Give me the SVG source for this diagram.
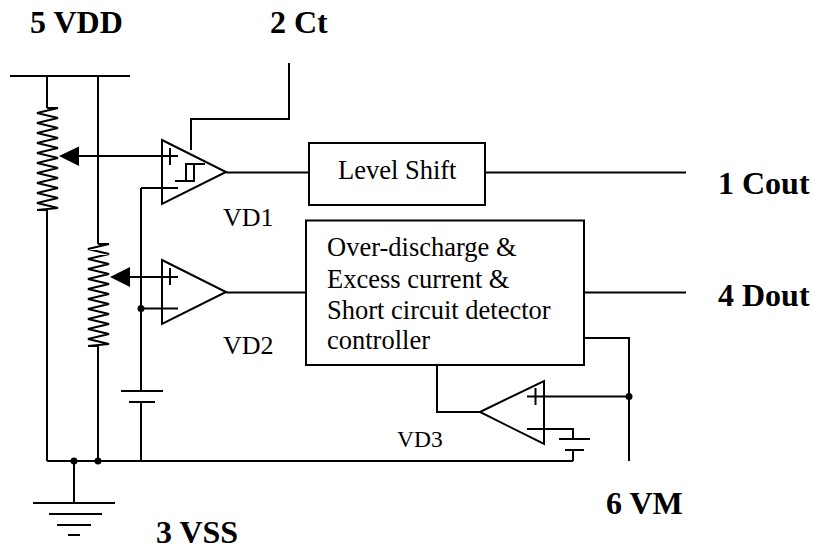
<svg xmlns="http://www.w3.org/2000/svg" width="814" height="550" viewBox="0 0 814 550">
<style>
.w{fill:none;stroke:#000;stroke-width:2}
.b{fill:#fff;stroke:#000;stroke-width:2}
.t{font-family:"Liberation Serif",serif;font-size:26.500px;fill:#000}
.l{font-family:"Liberation Serif",serif;font-size:26px;fill:#000}
.h{font-family:"Liberation Serif",serif;font-size:32px;font-weight:bold;fill:#000}
.d{fill:#000}
</style>
<defs>
<path id="zig" class="w" d="M0 0H11L-10 5L11 10L-10 15L11 20L-10 25L11 30L-10 35L11 40L-10 45L11 50L-10 55L11 60L-10 65L11 70L-10 75L11 80L-10 85L11 90L-10 95L11 100L-10 102H0"/>
</defs>
<rect width="814" height="550" fill="#fff"/>
<g id="connectors">
<path class="w" d="M10 76H130M47 76V108M47 210V461M98 76V244M98 346V461M47 461H573M74 461V503"/>
<path class="w" d="M79 156H178M130 277H178M141 188H178M141 188V391M141 402V461M141 308.500H178"/>
<path class="w" d="M191 150V119H289V63M226 172.500H309M226 292.500H305M485 172.500H686M584 292.500H686M584 338H629V461M437 365V412H480M527 396.500H629M527 429H573V439M573 450V461"/>
<use href="#zig" x="47" y="108"/>
<use href="#zig" x="98" y="244"/>
<circle class="d" cx="74" cy="461" r="3.500"/>
<circle class="d" cx="98" cy="461" r="3.500"/>
<circle class="d" cx="141" cy="308.500" r="3.500"/>
<circle class="d" cx="629" cy="396.500" r="3.500"/>
<polygon class="d" points="59,156 79,146.500 79,166"/>
<polygon class="d" points="110,277 130,267 130,287"/>
</g>
<g id="vdd"><text class="h" x="30" y="33">5 VDD</text></g>
<g id="ct"><text class="h" x="270" y="33">2 Ct</text></g>
<g id="cout"><text class="h" x="718" y="194">1 Cout</text></g>
<g id="dout"><text class="h" x="718" y="306">4 Dout</text></g>
<g id="vm"><text class="h" x="606" y="514">6 VM</text></g>
<g id="vss"><text class="h" x="156" y="543">3 VSS</text></g>
<g id="vd1">
<path class="w" d="M162 140L226 172L162 204ZM170 148V165M175 181H194V164M186 181V164H205"/>
<text class="l" x="223" y="226">VD1</text>
</g>
<g id="vd2">
<path class="w" d="M162 260L226 292L162 324ZM170 268V285"/>
<text class="l" x="223" y="354">VD2</text>
</g>
<g id="vd3">
<path class="w" d="M480 412L544 381V444ZM535.500 388V405"/>
<text class="l" x="397" y="447" style="font-size:23.500px">VD3</text>
</g>
<g id="level-shift">
<rect class="b" x="309" y="143" width="176" height="62"/>
<text class="t" x="338" y="179">Level Shift</text>
</g>
<g id="controller">
<rect class="b" x="306" y="220.500" width="278" height="144.500"/>
<text class="t" x="327" y="256">Over-discharge &amp;</text>
<text class="t" x="327" y="288">Excess current &amp;</text>
<text class="t" x="327" y="319">Short circuit detector</text>
<text class="t" x="327" y="349">controller</text>
</g>
<g id="battery-1"><path class="w" d="M121 391H163M129 402H155"/></g>
<g id="battery-2"><path class="w" d="M559 439H590M565 450H584"/></g>
<g id="ground"><path class="w" d="M33 503H115M49 514H102M57 525H91M68 535H80"/></g>
</svg>
